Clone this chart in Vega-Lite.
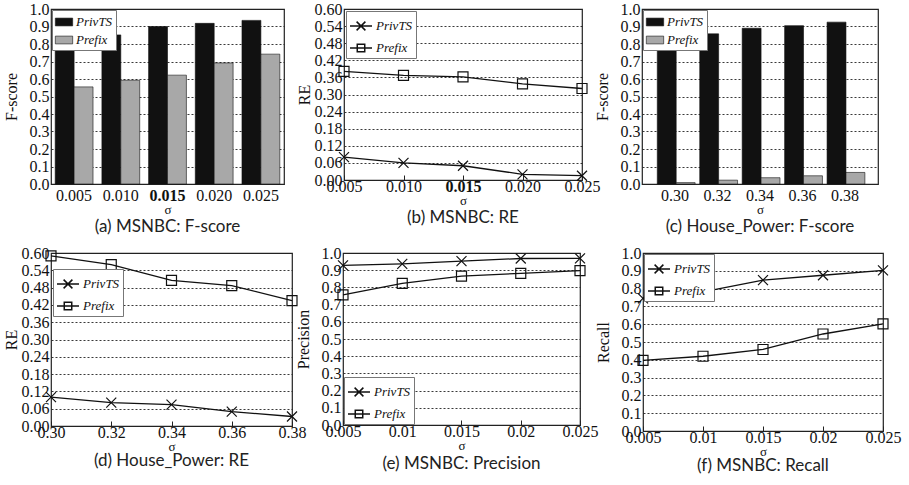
{
  "$schema": "https://vega.github.io/schema/vega-lite/v6.json",
  "padding": {"left": 2, "top": 0, "right": 0, "bottom": 0},
  "background": "white",
  "datasets": {
    "a": [
      {"s": "0.005", "series": "PrivTS", "v": 0.845}, {"s": "0.005", "series": "Prefix", "v": 0.555},
      {"s": "0.010", "series": "PrivTS", "v": 0.852}, {"s": "0.010", "series": "Prefix", "v": 0.593},
      {"s": "0.015", "series": "PrivTS", "v": 0.900}, {"s": "0.015", "series": "Prefix", "v": 0.622},
      {"s": "0.020", "series": "PrivTS", "v": 0.918}, {"s": "0.020", "series": "Prefix", "v": 0.692},
      {"s": "0.025", "series": "PrivTS", "v": 0.935}, {"s": "0.025", "series": "Prefix", "v": 0.742}
    ],
    "b": [
      {"x": 0.005, "series": "PrivTS", "v": 0.080}, {"x": 0.005, "series": "Prefix", "v": 0.381},
      {"x": 0.010, "series": "PrivTS", "v": 0.060}, {"x": 0.010, "series": "Prefix", "v": 0.367},
      {"x": 0.015, "series": "PrivTS", "v": 0.050}, {"x": 0.015, "series": "Prefix", "v": 0.362},
      {"x": 0.020, "series": "PrivTS", "v": 0.020}, {"x": 0.020, "series": "Prefix", "v": 0.337},
      {"x": 0.025, "series": "PrivTS", "v": 0.015}, {"x": 0.025, "series": "Prefix", "v": 0.321}
    ],
    "c": [
      {"s": "0.30", "series": "PrivTS", "v": 0.830}, {"s": "0.30", "series": "Prefix", "v": 0.008},
      {"s": "0.32", "series": "PrivTS", "v": 0.858}, {"s": "0.32", "series": "Prefix", "v": 0.022},
      {"s": "0.34", "series": "PrivTS", "v": 0.890}, {"s": "0.34", "series": "Prefix", "v": 0.036},
      {"s": "0.36", "series": "PrivTS", "v": 0.905}, {"s": "0.36", "series": "Prefix", "v": 0.047},
      {"s": "0.38", "series": "PrivTS", "v": 0.925}, {"s": "0.38", "series": "Prefix", "v": 0.066}
    ],
    "d": [
      {"x": 0.30, "series": "PrivTS", "v": 0.100}, {"x": 0.30, "series": "Prefix", "v": 0.590},
      {"x": 0.32, "series": "PrivTS", "v": 0.081}, {"x": 0.32, "series": "Prefix", "v": 0.560},
      {"x": 0.34, "series": "PrivTS", "v": 0.074}, {"x": 0.34, "series": "Prefix", "v": 0.505},
      {"x": 0.36, "series": "PrivTS", "v": 0.050}, {"x": 0.36, "series": "Prefix", "v": 0.487},
      {"x": 0.38, "series": "PrivTS", "v": 0.033}, {"x": 0.38, "series": "Prefix", "v": 0.435}
    ],
    "e": [
      {"x": 0.005, "series": "PrivTS", "v": 0.928}, {"x": 0.005, "series": "Prefix", "v": 0.757},
      {"x": 0.010, "series": "PrivTS", "v": 0.937}, {"x": 0.010, "series": "Prefix", "v": 0.823},
      {"x": 0.015, "series": "PrivTS", "v": 0.953}, {"x": 0.015, "series": "Prefix", "v": 0.865},
      {"x": 0.020, "series": "PrivTS", "v": 0.968}, {"x": 0.020, "series": "Prefix", "v": 0.882},
      {"x": 0.025, "series": "PrivTS", "v": 0.969}, {"x": 0.025, "series": "Prefix", "v": 0.898}
    ],
    "f": [
      {"x": 0.005, "series": "PrivTS", "v": 0.745}, {"x": 0.005, "series": "Prefix", "v": 0.397},
      {"x": 0.010, "series": "PrivTS", "v": 0.782}, {"x": 0.010, "series": "Prefix", "v": 0.420},
      {"x": 0.015, "series": "PrivTS", "v": 0.848}, {"x": 0.015, "series": "Prefix", "v": 0.458},
      {"x": 0.020, "series": "PrivTS", "v": 0.875}, {"x": 0.020, "series": "Prefix", "v": 0.545},
      {"x": 0.025, "series": "PrivTS", "v": 0.902}, {"x": 0.025, "series": "Prefix", "v": 0.602}
    ]
  },
  "vconcat": [
    {
      "hconcat": [
        {
          "width": 233, "height": 175,
          "title": {"text": "(a) MSNBC: F-score"},
          "data": {"name": "a"},
          "mark": {"type": "bar", "stroke": "#111", "strokeWidth": 0.6},
          "encoding": {
            "x": {"field": "s", "type": "nominal", "sort": null, "scale": {"paddingInner": 0.19, "paddingOuter": 0.09},
                  "axis": {"title": "σ", "labelAngle": 0, "labelFontWeight": {"condition": {"test": "datum.value === '0.015'", "value": "bold"}, "value": "normal"}}},
            "xOffset": {"field": "series", "type": "nominal", "sort": ["PrivTS", "Prefix"], "scale": {"paddingInner": 0, "paddingOuter": 0}},
            "y": {"field": "v", "type": "quantitative", "scale": {"domain": [0, 1], "nice": false},
                  "axis": {"title": "F-score", "values": [0, 0.1, 0.2, 0.3, 0.4, 0.5, 0.6, 0.7, 0.8, 0.9, 1.0], "format": ".1f"}},
            "color": {"field": "series", "type": "nominal", "scale": {"domain": ["PrivTS", "Prefix"], "range": ["#111111", "#a8a8a8"]},
                      "legend": {"title": null, "orient": "top-left", "offset": 1, "symbolType": "M-1,-0.45H1V0.45H-1Z", "symbolSize": 300, "symbolStrokeColor": "#111", "symbolStrokeWidth": 0.6}}
          }
        },
        {
          "width": 238, "height": 171,
          "title": {"text": "(b) MSNBC: RE"},
          "data": {"name": "b"},
          "encoding": {
            "x": {"field": "x", "type": "quantitative", "scale": {"domain": [0.005, 0.025], "nice": false, "zero": false},
                  "axis": {"title": "σ", "values": [0.005, 0.01, 0.015, 0.02, 0.025], "format": ".3f", "ticks": true, "tickSize": -5, "tickColor": "#222",
                           "labelFontWeight": {"condition": {"test": "abs(datum.value - 0.015) < 0.0001", "value": "bold"}, "value": "normal"}}},
            "y": {"field": "v", "type": "quantitative", "scale": {"domain": [0, 0.6], "nice": false},
                  "axis": {"title": "RE", "values": [0, 0.06, 0.12, 0.18, 0.24, 0.3, 0.36, 0.42, 0.48, 0.54, 0.6], "format": ".2f"}}
          },
          "layer": [
            {"mark": {"type": "line", "color": "#111", "strokeWidth": 1.3}, "encoding": {"detail": {"field": "series"}}},
            {"mark": {"type": "point", "size": 100, "filled": false, "color": "#111", "strokeWidth": 1.2, "opacity": 1},
             "encoding": {"shape": {"condition": {"test": "datum.series === 'PrivTS'", "value": "M-1,-1L1,1M-1,1L1,-1"}, "value": "square"}}},
            {"transform": [{"filter": "false"}],
             "mark": {"type": "point", "size": 484, "filled": false, "color": "#111", "strokeWidth": 1.2, "opacity": 1},
             "encoding": {"shape": {"field": "series", "type": "nominal",
               "scale": {"domain": ["PrivTS", "Prefix"], "range": ["M-1,0H1M-0.4,-0.4L0.4,0.4M-0.4,0.4L0.4,-0.4", "M-1,0H1M-0.34,-0.34H0.34V0.34H-0.34Z"]},
               "legend": {"title": null, "orient": "top-left", "offset": 2, "symbolSize": 484}}}}
          ]
        },
        {
          "width": 236, "height": 175,
          "title": {"text": "(c) House_Power: F-score"},
          "data": {"name": "c"},
          "mark": {"type": "bar", "stroke": "#111", "strokeWidth": 0.6},
          "encoding": {
            "x": {"field": "s", "type": "nominal", "sort": null, "scale": {"paddingInner": 0.16, "paddingOuter": 0.36},
                  "axis": {"title": "σ", "labelAngle": 0}},
            "xOffset": {"field": "series", "type": "nominal", "sort": ["PrivTS", "Prefix"], "scale": {"paddingInner": 0, "paddingOuter": 0}},
            "y": {"field": "v", "type": "quantitative", "scale": {"domain": [0, 1], "nice": false},
                  "axis": {"title": "F-score", "values": [0, 0.1, 0.2, 0.3, 0.4, 0.5, 0.6, 0.7, 0.8, 0.9, 1.0], "format": ".1f"}},
            "color": {"field": "series", "type": "nominal", "scale": {"domain": ["PrivTS", "Prefix"], "range": ["#111111", "#a8a8a8"]},
                      "legend": {"title": null, "orient": "top-left", "offset": 1, "symbolType": "M-1,-0.45H1V0.45H-1Z", "symbolSize": 300, "symbolStrokeColor": "#111", "symbolStrokeWidth": 0.6}}
          }
        }
      ],
      "spacing": 60,
      "bounds": "flush",
      "resolve": {"scale": {"color": "independent", "shape": "independent"}, "legend": {"color": "independent", "shape": "independent"}}
    },
    {
      "hconcat": [
        {
          "width": 241, "height": 173,
          "title": {"text": "(d) House_Power: RE", "offset": 0},
          "data": {"name": "d"},
          "encoding": {
            "x": {"field": "x", "type": "quantitative", "scale": {"domain": [0.30, 0.38], "nice": false, "zero": false},
                  "axis": {"title": "σ", "values": [0.30, 0.32, 0.34, 0.36, 0.38], "format": ".2f", "ticks": true, "tickSize": -5, "tickColor": "#222"}},
            "y": {"field": "v", "type": "quantitative", "scale": {"domain": [0, 0.6], "nice": false},
                  "axis": {"title": "RE", "values": [0, 0.06, 0.12, 0.18, 0.24, 0.3, 0.36, 0.42, 0.48, 0.54, 0.6], "format": ".2f"}}
          },
          "layer": [
            {"mark": {"type": "line", "color": "#111", "strokeWidth": 1.3}, "encoding": {"detail": {"field": "series"}}},
            {"mark": {"type": "point", "size": 100, "filled": false, "color": "#111", "strokeWidth": 1.2, "opacity": 1},
             "encoding": {"shape": {"condition": {"test": "datum.series === 'PrivTS'", "value": "M-1,-1L1,1M-1,1L1,-1"}, "value": "square"}}},
            {"transform": [{"filter": "false"}],
             "mark": {"type": "point", "size": 484, "filled": false, "color": "#111", "strokeWidth": 1.2, "opacity": 1},
             "encoding": {"shape": {"field": "series", "type": "nominal",
               "scale": {"domain": ["PrivTS", "Prefix"], "range": ["M-1,0H1M-0.4,-0.4L0.4,0.4M-0.4,0.4L0.4,-0.4", "M-1,0H1M-0.34,-0.34H0.34V0.34H-0.34Z"]},
               "legend": {"title": null, "orient": "none", "legendX": 2, "legendY": 16, "symbolSize": 484}}}}
          ]
        },
        {
          "hconcat": [
            {
              "width": 237, "height": 172,
              "title": {"text": "(e) MSNBC: Precision", "offset": 4},
              "data": {"name": "e"},
              "encoding": {
                "x": {"field": "x", "type": "quantitative", "scale": {"domain": [0.005, 0.025], "nice": false, "zero": false},
                      "axis": {"title": "σ", "values": [0.005, 0.01, 0.015, 0.02, 0.025], "format": ".3~f", "ticks": true, "tickSize": -5, "tickColor": "#222"}},
                "y": {"field": "v", "type": "quantitative", "scale": {"domain": [0, 1], "nice": false},
                      "axis": {"title": "Precision", "values": [0, 0.1, 0.2, 0.3, 0.4, 0.5, 0.6, 0.7, 0.8, 0.9, 1.0], "format": ".1f"}}
              },
              "layer": [
                {"mark": {"type": "line", "color": "#111", "strokeWidth": 1.3}, "encoding": {"detail": {"field": "series"}}},
                {"mark": {"type": "point", "size": 100, "filled": false, "color": "#111", "strokeWidth": 1.2, "opacity": 1},
                 "encoding": {"shape": {"condition": {"test": "datum.series === 'PrivTS'", "value": "M-1,-1L1,1M-1,1L1,-1"}, "value": "square"}}},
                {"transform": [{"filter": "false"}],
                 "mark": {"type": "point", "size": 484, "filled": false, "color": "#111", "strokeWidth": 1.2, "opacity": 1},
                 "encoding": {"shape": {"field": "series", "type": "nominal",
                   "scale": {"domain": ["PrivTS", "Prefix"], "range": ["M-1,0H1M-0.4,-0.4L0.4,0.4M-0.4,0.4L0.4,-0.4", "M-1,0H1M-0.34,-0.34H0.34V0.34H-0.34Z"]},
                   "legend": {"title": null, "orient": "bottom-left", "offset": 1, "symbolSize": 484}}}}
              ]
            },
            {
              "width": 240, "height": 178,
              "title": {"text": "(f) MSNBC: Recall", "offset": 0},
              "data": {"name": "f"},
              "encoding": {
                "x": {"field": "x", "type": "quantitative", "scale": {"domain": [0.005, 0.025], "nice": false, "zero": false},
                      "axis": {"title": "σ", "values": [0.005, 0.01, 0.015, 0.02, 0.025], "format": ".3~f", "ticks": true, "tickSize": -5, "tickColor": "#222"}},
                "y": {"field": "v", "type": "quantitative", "scale": {"domain": [0, 1], "nice": false},
                      "axis": {"title": "Recall", "values": [0, 0.1, 0.2, 0.3, 0.4, 0.5, 0.6, 0.7, 0.8, 0.9, 1.0], "format": ".1f"}}
              },
              "layer": [
                {"mark": {"type": "line", "color": "#111", "strokeWidth": 1.3}, "encoding": {"detail": {"field": "series"}}},
                {"mark": {"type": "point", "size": 100, "filled": false, "color": "#111", "strokeWidth": 1.2, "opacity": 1},
                 "encoding": {"shape": {"condition": {"test": "datum.series === 'PrivTS'", "value": "M-1,-1L1,1M-1,1L1,-1"}, "value": "square"}}},
                {"transform": [{"filter": "false"}],
                 "mark": {"type": "point", "size": 484, "filled": false, "color": "#111", "strokeWidth": 1.2, "opacity": 1},
                 "encoding": {"shape": {"field": "series", "type": "nominal",
                   "scale": {"domain": ["PrivTS", "Prefix"], "range": ["M-1,0H1M-0.4,-0.4L0.4,0.4M-0.4,0.4L0.4,-0.4", "M-1,0H1M-0.34,-0.34H0.34V0.34H-0.34Z"]},
                   "legend": {"title": null, "orient": "top-left", "offset": 1, "symbolSize": 484}}}}
              ]
            }
          ],
          "spacing": 63,
          "bounds": "flush",
          "resolve": {"scale": {"color": "independent", "shape": "independent"}, "legend": {"color": "independent", "shape": "independent"}}
        }
      ],
      "spacing": 51,
      "bounds": "flush",
      "resolve": {"scale": {"color": "independent", "shape": "independent"}, "legend": {"color": "independent", "shape": "independent"}}
    }
  ],
  "spacing": 8,
  "resolve": {"scale": {"color": "independent", "shape": "independent"}, "legend": {"color": "independent", "shape": "independent"}},
  "config": {
    "view": {"stroke": "#222", "strokeWidth": 1.2},
    "font": "Liberation Serif",
    "axis": {
      "labelFont": "Liberation Serif", "labelFontSize": 16, "labelColor": "#111",
      "titleFont": "Liberation Serif", "titleFontWeight": "normal", "titleColor": "#111",
      "ticks": false, "domain": false, "labelFlush": false, "labelOverlap": false,
      "gridColor": "#222", "gridDash": [2, 2], "gridWidth": 0.9, "gridOpacity": 1
    },
    "axisX": {"grid": false, "labelPadding": 3, "titleFontSize": 13, "titlePadding": 0},
    "axisY": {"grid": true, "titleFontSize": 16, "minExtent": 30, "labelPadding": 2, "titlePadding": 2},
    "legend": {
      "labelFont": "Liberation Serif", "labelFontStyle": "italic", "labelFontSize": 13, "labelColor": "#111",
      "strokeColor": "#777", "fillColor": "white", "padding": 3, "rowPadding": 2, "labelOffset": 3
    },
    "title": {"font": "Lato", "fontSize": 17, "fontWeight": "normal", "color": "#222", "orient": "bottom", "frame": "group", "anchor": "middle", "offset": 3}
  }
}
